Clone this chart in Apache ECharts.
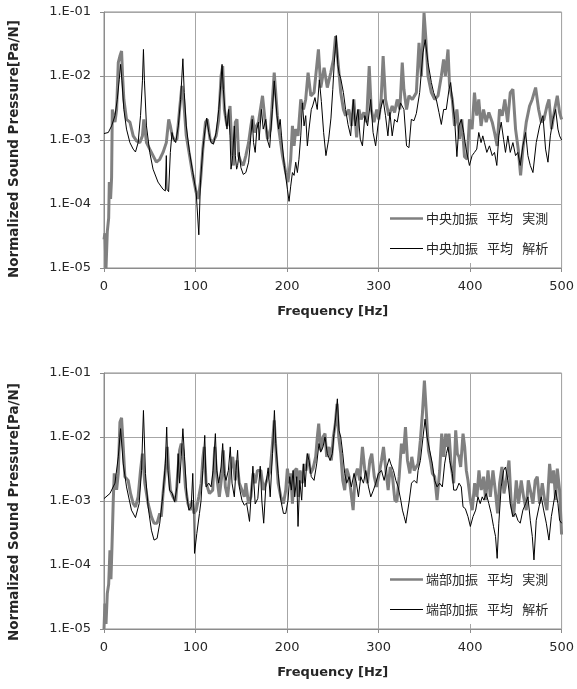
<!DOCTYPE html>
<html>
<head>
<meta charset="utf-8">
<script src="https://cdn.jsdelivr.net/npm/echarts@6/dist/echarts.min.js"></script>
<style>
  html, body { margin: 0; padding: 0; background: #fff; }
  #chart { width: 577px; height: 689px; }
</style>
</head>
<body>
<div id="chart"></div>
<script>
// Frequency response, normalized sound pressure [Pa/N] vs frequency [Hz]
const xTicks = [0, 100, 200, 300, 400, 500];
const yTickLabels = ['1.E-05', '1.E-04', '1.E-03', '1.E-02', '1.E-01'];

const gap = '\u2002\u2009';
const seriesNames = {
  centerMeas: '中央加振' + gap + '平均' + gap + '実測',
  centerCalc: '中央加振' + gap + '平均' + gap + '解析',
  edgeMeas: '端部加振' + gap + '平均' + gap + '実測',
  edgeCalc: '端部加振' + gap + '平均' + gap + '解析'
};

// Center excitation, measured average
const centerMeas = [
  [0,2.8e-5],[1,3.5e-5],[2.2,1e-5],[3.6,3.7e-5],[5.1,6e-5],[5.8,2.2e-4],[7.2,1.2e-4],[8.3,2.6e-4],[9.1,3.0e-3],
  [10.9,2.2e-3],[12,1.9e-3],[13.8,3.0e-3],[15.6,1.62e-2],[17.4,2.05e-2],[19.2,2.45e-2],[20.3,1.0e-2],[21.7,4.3e-3],
  [24.6,2.1e-3],[28.3,1.9e-3],[31.9,1.16e-3],[35.5,9.7e-4],[39.1,9.1e-4],[42,1.16e-3],[43.5,2.1e-3],[46.4,9.1e-4],
  [50,7.2e-4],[53.6,5.7e-4],[57.2,4.5e-4],[60.9,5.0e-4],[64.5,6.4e-4],[68.1,9.1e-4],[70.7,2.1e-3],[72.5,1.66e-3],
  [74.6,1.16e-3],[77.2,9.7e-4],[79.7,1.03e-3],[82.6,3.0e-3],[85.1,7.0e-3],[87,4.3e-3],[89.9,1.16e-3],[93.5,5.7e-4],
  [97.1,2.8e-4],[100.7,1.52e-4],[102.9,1.2e-4],[105.4,2.2e-4],[108,7.2e-4],[110.9,1.9e-3],[113,2.1e-3],[115.9,1.03e-3],
  [118.8,9.1e-4],[122.5,1.16e-3],[125.4,2.1e-3],[127.9,1.0e-2],[129.7,1.43e-2],[131.5,3.0e-3],[134.4,1.66e-3],
  [137.7,3.4e-3],[139.8,7.2e-4],[141.7,4.0e-4],[143.5,1.9e-3],[145.3,2.1e-3],[147.1,5.7e-4],[149.6,4.5e-4],
  [152.2,4.0e-4],[155,5.7e-4],[158,9.1e-4],[160.5,1.66e-3],[162.3,2.4e-3],[164.5,1.31e-3],[166.7,1.66e-3],
  [168.8,1.9e-3],[173.2,4.9e-3],[176,2.0e-3],[178.7,1.03e-3],[182,1.5e-3],[186,1.13e-2],[189.5,2.4e-3],[191,1.48e-3],
  [195,5.7e-4],[198.6,3.1e-4],[201,2.2e-4],[204,5.0e-4],[205.9,1.66e-3],[207.7,8.1e-4],[209.5,1.48e-3],[212,1.16e-3],
  [215,4.3e-3],[218,3.0e-3],[220.4,4.3e-3],[223,1.13e-2],[226,4.9e-3],[229.5,5.5e-3],[234.3,2.6e-2],[236.9,6.6e-3],
  [240.5,1.35e-2],[244,6.6e-3],[247.8,1.13e-2],[250.7,1.8e-2],[253,4.2e-2],[255.8,1.6e-2],[258.7,5.5e-3],[261.6,3.0e-3],
  [264,2.4e-3],[267.6,3.0e-3],[270.6,1.66e-3],[273,4.3e-3],[276,1.1e-3],[278.6,3.0e-3],[281,2.1e-3],[284,2.7e-3],
  [286.9,1.9e-3],[289.8,1.43e-2],[292,3.0e-3],[295,1.9e-3],[298,3.0e-3],[300.3,2.1e-3],[302.8,4.3e-3],[305,2.05e-2],
  [307.6,4.3e-3],[311.3,2.4e-3],[314.9,3.4e-3],[317.5,2.7e-3],[320.4,4.3e-3],[323.3,3.0e-3],[325.9,1.62e-2],
  [327.7,6.2e-3],[330.6,3.0e-3],[333.2,4.9e-3],[336.9,4.3e-3],[338,4.3e-3],[341.3,5.5e-3],[344.2,3.3e-2],[346.8,1.0e-2],
  [349.7,9.7e-2],[351.5,4.2e-2],[354,1.0e-2],[357.7,5.5e-3],[361.3,4.3e-3],[365,4.9e-3],[368.6,1.0e-2],[371.1,1.82e-2],
  [373,1.0e-2],[375.9,2.6e-2],[377.6,7.0e-3],[380.6,4.3e-3],[383,1.66e-3],[385.6,3.0e-3],[388.5,1.03e-3],[391,2.1e-3],
  [393.9,5.5e-4],[396.8,5.0e-4],[399.3,2.1e-3],[402.2,1.48e-3],[404.8,5.5e-3],[407.3,2.4e-3],[409.5,4.3e-3],
  [412,1.66e-3],[414.7,3.0e-3],[417.6,1.9e-3],[420.5,2.7e-3],[424.2,1.9e-3],[426.7,1.31e-3],[429.6,8.1e-4],
  [432.2,3.0e-3],[435.1,2.4e-3],[438,4.3e-3],[441,1.9e-3],[443.9,5.5e-3],[446.8,6.2e-3],[449.7,1.48e-3],[452.6,7.2e-4],
  [455.2,2.8e-4],[457.7,7.2e-4],[461.4,1.9e-3],[465,3.4e-3],[467.9,4.3e-3],[471.6,6.6e-3],[474.9,3.0e-3],[477.8,1.9e-3],
  [480.7,2.1e-3],[484,3.4e-3],[486.2,4.3e-3],[489.1,1.48e-3],[492.4,3.0e-3],[495.3,4.9e-3],[497.8,2.7e-3],[500,2.1e-3]
];

// Center excitation, analysis average
const centerCalc = [
  [0,1.26e-3],[4.7,1.31e-3],[8.3,1.66e-3],[12,2.4e-3],[14.5,4.3e-3],[16.7,8.9e-3],[18.1,1.52e-2],[19.6,8.4e-3],
  [21.7,3.0e-3],[24.6,1.48e-3],[28.3,9.1e-4],[31.9,7.2e-4],[34.4,6.5e-4],[37.3,9.1e-4],[39.9,2.4e-3],[42,8.4e-3],
  [43.1,2.6e-2],[44.2,8.4e-3],[46.4,1.66e-3],[50,6.4e-4],[53.6,3.5e-4],[59,2.2e-4],[64.5,1.7e-4],[67,1.6e-4],
  [68.1,5.7e-4],[68.8,1.7e-4],[70.6,1.56e-4],[72.5,6.4e-4],[74.3,1.31e-3],[76,1.03e-3],[78.3,9.1e-4],[81.2,1.66e-3],
  [83.7,4.3e-3],[86.2,1.86e-2],[87.7,5.5e-3],[89.9,1.66e-3],[93.5,6.4e-4],[97.1,3.1e-4],[100.7,1.52e-4],[103.6,3.3e-5],
  [105.4,2.2e-4],[108,7.2e-4],[110.5,1.48e-3],[112.3,2.2e-3],[114.5,1.31e-3],[117,9.1e-4],[119.6,8.6e-4],[122.5,1.31e-3],
  [125.4,3.0e-3],[127.5,7.0e-3],[129,1.52e-2],[130.4,6.2e-3],[132.6,2.4e-3],[134.4,1.48e-3],[136.2,3.0e-3],
  [137.7,1.16e-3],[138.8,3.5e-4],[140.6,5.7e-4],[142.4,1.66e-3],[143.5,5.7e-4],[144.9,3.5e-4],[146,4.0e-4],
  [147.8,6.4e-4],[149.6,3.7e-4],[152.2,2.9e-4],[155,3.1e-4],[158,4.5e-4],[160.5,1.16e-3],[162,2.1e-3],[163.4,9.1e-4],
  [165.2,6.4e-4],[167,1.48e-3],[168.8,1.9e-3],[169.5,1.0e-3],[172,3.0e-3],[174,1.48e-3],[176.8,2.1e-3],[178.6,1.0e-3],
  [181,7.6e-4],[184,3.0e-3],[186,8.4e-3],[189,2.4e-3],[190.8,1.48e-3],[192.5,2.1e-3],[194,1.16e-3],[197,4.0e-4],
  [200.4,1.7e-4],[202.2,1.1e-4],[204,1.9e-4],[205.9,3.1e-4],[207.7,2.8e-4],[209.5,4.5e-4],[211.3,3.1e-4],[213,5.0e-4],
  [215,1.16e-3],[216.8,3.8e-3],[218.6,1.66e-3],[220.4,2.4e-3],[222.2,8.1e-4],[224,1.48e-3],[226.5,3.0e-3],[228,3.4e-3],
  [230.5,4.6e-3],[233,3.0e-3],[235.3,8.7e-3],[237.5,4.0e-3],[240,1.3e-3],[242.5,5.7e-4],[245.5,1.03e-3],[248,2.2e-3],
  [250,6.2e-3],[251.6,1.6e-2],[253.8,4.3e-2],[255.5,1.5e-2],[256.9,1.1e-2],[258.7,9.1e-3],[261.6,5.5e-3],[264,3.0e-3],
  [266.6,1.75e-3],[269.5,1.16e-3],[272.4,4.3e-3],[274.5,1.66e-3],[277.5,3.0e-3],[280,1.03e-3],[282.4,8.1e-4],
  [285,2.4e-3],[288,1.66e-3],[291.4,4.3e-3],[294,1.31e-3],[296.8,8.1e-4],[299.3,1.66e-3],[302.1,3.0e-3],[305,4.3e-3],
  [307.6,2.4e-3],[310.2,1.16e-3],[312.4,2.7e-3],[314.9,1.16e-3],[317.5,2.1e-3],[320.4,1.9e-3],[324,3.8e-3],
  [327.7,3.0e-3],[330.6,8.1e-4],[333.2,7.6e-4],[335.8,2.1e-3],[338.7,2.0e-3],[341.3,2.6e-3],[344.9,5.5e-3],
  [348.5,2.3e-2],[351,3.7e-2],[354,1.62e-2],[357.7,7.9e-3],[360.2,5.5e-3],[363.1,4.3e-3],[366,2.7e-3],[368.6,1.75e-3],
  [371.1,3.0e-3],[374,3.0e-3],[377,6.2e-3],[378.8,7.9e-3],[380.6,4.3e-3],[383.1,2.1e-3],[385.6,5.5e-4],[387.8,1.66e-3],
  [390.4,2.1e-3],[393,1.31e-3],[395.7,7.2e-4],[399.3,4.0e-4],[402.2,5.7e-4],[404.8,6.4e-4],[407.3,7.2e-4],
  [409.5,1.31e-3],[412,9.1e-4],[413.9,1.16e-3],[415.7,9.1e-4],[418.3,6.4e-4],[421.2,8.1e-4],[424.2,5.7e-4],
  [426.7,6.4e-4],[429.2,4.0e-4],[431.4,1.16e-3],[434,1.9e-3],[436.6,1.03e-3],[438.7,6.4e-4],[441.3,1.16e-3],
  [443.9,6.4e-4],[446.8,9.1e-4],[449.7,5.7e-4],[452.2,6.4e-4],[454.8,4.0e-4],[457.7,8.1e-4],[460.7,1.31e-3],
  [463.2,5.7e-4],[465.8,4.0e-4],[468.7,3.1e-4],[472.3,9.1e-4],[476,1.66e-3],[479.6,2.4e-3],[482.5,7.2e-4],
  [485.1,4.5e-4],[487.7,1.16e-3],[490.6,2.1e-3],[493.5,3.0e-3],[496,1.48e-3],[497.8,1.16e-3],[500,1.0e-3]
];

// Edge excitation, measured average
const edgeMeas = [
  [0,1.0e-5],[1,2.5e-5],[2.2,1.2e-5],[3.6,3.6e-5],[5.1,5.0e-5],[6.5,1.7e-4],[7.6,6e-5],[8.7,1.9e-4],[10.1,1.0e-3],
  [11.2,2.7e-3],[13.8,1.5e-3],[15.6,2.7e-3],[17.4,1.7e-2],[19.2,2.0e-2],[21,7.0e-3],[22.8,2.4e-3],[26.4,2.1e-3],
  [29,1.31e-3],[31.9,9.1e-4],[34.4,8.1e-4],[37.3,1.16e-3],[39.9,3.0e-3],[42,5.5e-3],[44.6,1.9e-3],[48.2,9.1e-4],
  [51.8,5.7e-4],[54.7,4.5e-4],[58,4.5e-4],[60.9,6.4e-4],[62.7,5.7e-4],[64.5,1.31e-3],[67,3.0e-3],[69.2,7.0e-3],
  [70.7,3.0e-3],[72.5,1.48e-3],[75.4,1.16e-3],[78.3,9.7e-4],[80.8,3.0e-3],[82.6,6.2e-3],[84.4,7.9e-3],[86.2,6.2e-3],
  [89,1.66e-3],[91.7,9.1e-4],[94.2,7.2e-4],[96.4,1.03e-3],[98.2,6.4e-4],[100.7,7.2e-4],[103.6,1.16e-3],[106.2,1.9e-3],
  [108,4.6e-3],[109.4,7.0e-3],[111.6,1.9e-3],[115.2,1.31e-3],[118.8,1.48e-3],[121,7.0e-3],[123.2,2.4e-3],[126,1.16e-3],
  [129,2.7e-3],[130.4,6.2e-3],[132.6,1.66e-3],[135.1,1.16e-3],[138,3.0e-3],[140.6,4.9e-3],[143.5,2.1e-3],[145.3,4.3e-3],
  [147.8,1.9e-3],[150.7,1.48e-3],[153.3,1.16e-3],[155,1.9e-3],[157.9,9.1e-4],[160.5,1.16e-3],[163,2.7e-3],[165.2,1.9e-3],
  [167.7,3.0e-3],[171.4,3.0e-3],[174.3,1.48e-3],[177.9,2.1e-3],[181.6,3.0e-3],[184.1,7.9e-3],[186,1.82e-2],[188.1,5.5e-3],
  [190.3,1.9e-3],[193.2,1.16e-3],[196.1,9.1e-4],[198.6,1.48e-3],[200.4,3.2e-3],[202.2,1.9e-3],[204,2.7e-3],[205.9,9.1e-4],
  [208.4,3.0e-3],[210.6,3.2e-3],[212.4,1.16e-3],[214.2,3.0e-3],[216.8,1.9e-3],[218.6,3.8e-3],[220.8,3.0e-3],[223,5.5e-3],
  [225.8,2.7e-3],[228.4,3.2e-3],[231.3,4.9e-3],[233.1,1.0e-2],[234.6,1.62e-2],[236.8,6.2e-3],[239.3,1.0e-2],[241.5,1.13e-2],
  [243.3,4.9e-3],[245.9,7.0e-3],[248.4,4.3e-3],[250.6,1.0e-2],[252.8,1.62e-2],[254.6,3.3e-2],[256.5,1.0e-2],[258.7,5.5e-3],
  [260.9,2.1e-3],[263,1.48e-3],[265.2,3.2e-3],[267.8,2.4e-3],[269.6,1.48e-3],[272.2,7.2e-4],[274.3,2.4e-3],[276.9,3.2e-3],
  [279.5,2.1e-3],[282.4,7.0e-3],[285,3.0e-3],[287.9,1.9e-3],[290.5,4.3e-3],[292.6,5.5e-3],[295.3,2.4e-3],[297.8,1.66e-3],
  [300.7,2.7e-3],[303.2,4.3e-3],[305.4,7.0e-3],[308,3.0e-3],[310.5,1.48e-3],[312.7,3.4e-3],[315.2,2.4e-3],[317.8,1.03e-3],
  [320,9.7e-4],[322.5,2.4e-3],[325,7.9e-3],[327.3,5.5e-3],[329.4,1.43e-2],[331.6,4.3e-3],[334.2,2.7e-3],[336.3,4.9e-3],
  [338.9,3.0e-3],[340.6,3.0e-3],[343.2,3.8e-3],[345.7,8.9e-3],[347.9,2.3e-2],[350.1,7.6e-2],[352.3,2.3e-2],[354.5,6.2e-3],
  [356.7,4.3e-3],[358.8,2.7e-3],[361.3,2.4e-3],[363.9,1.03e-3],[366.8,3.0e-3],[369,1.13e-2],[371.1,4.9e-3],[373.4,1.13e-2],
  [375.2,7.0e-3],[377,1.13e-2],[379.5,3.4e-3],[382.1,1.9e-3],[384.3,1.27e-2],[386.1,5.5e-3],[387.9,4.9e-3],[389.7,3.4e-3],
  [392.3,1.13e-2],[394.1,7.0e-3],[395.9,3.0e-3],[397.7,2.1e-3],[400.3,1.03e-3],[402.4,7.2e-4],[405,1.9e-3],[407.5,1.16e-3],
  [409.7,3.0e-3],[412.2,1.48e-3],[414.8,2.4e-3],[417,1.03e-3],[419.6,3.0e-3],[422.1,1.16e-3],[425,3.0e-3],[427.5,1.48e-3],
  [430.1,6.4e-4],[432.3,1.9e-3],[434.8,3.4e-3],[437,1.31e-3],[439.6,2.1e-3],[442.5,4.3e-3],[445,9.1e-4],[447.6,5.7e-4],
  [450.5,2.1e-3],[453,9.1e-4],[455.9,2.1e-3],[458.5,1.16e-3],[461.4,7.2e-4],[463.6,2.1e-3],[465.8,1.48e-3],[468.7,9.1e-4],
  [471.2,2.1e-3],[473.4,2.4e-3],[476,9.1e-4],[478.9,1.9e-3],[481.5,1.03e-3],[484,7.2e-4],[486.9,3.8e-3],[489.1,1.9e-3],
  [491.3,3.0e-3],[493.5,1.03e-3],[495.3,3.2e-3],[497.8,1.48e-3],[500,3.0e-4]
];

// Edge excitation, analysis average
const edgeCalc = [
  [0,1.09e-3],[6.5,1.31e-3],[12,1.9e-3],[15.6,4.9e-3],[18.1,1.35e-2],[21,3.8e-3],[24.6,1.66e-3],[30,7.2e-4],[34.4,5.5e-4],
  [38.4,9.1e-4],[41,3.0e-3],[43.1,2.6e-2],[45.3,2.7e-3],[48.2,8.1e-4],[51.8,3.5e-4],[54.7,2.45e-4],[58,2.6e-4],[60.9,4.5e-4],
  [64.5,1.31e-3],[67,3.8e-3],[68.5,1.43e-2],[69.9,3.0e-3],[71.7,1.48e-3],[74.6,1.31e-3],[77.2,9.7e-4],[79.7,1.66e-3],
  [81,5.5e-3],[82.6,1.9e-3],[84.4,4.9e-3],[86.2,1.35e-2],[88,4.9e-3],[90.6,1.16e-3],[92.8,7.2e-4],[95.3,8.1e-4],[97,2.7e-3],
  [98.2,7.2e-4],[98.9,1.52e-4],[101.4,3.1e-4],[104.3,6.4e-4],[106,1.0e-3],[108,3.0e-3],[110.1,1.06e-2],[111.6,1.66e-3],
  [114.5,1.9e-3],[117,1.66e-3],[119.2,3.0e-3],[121.7,1.13e-2],[123.2,3.0e-3],[125.4,1.9e-3],[127.9,3.4e-3],[129.7,7.9e-3],
  [131.5,2.7e-3],[133.3,2.1e-3],[135.9,3.0e-3],[138,7.0e-3],[139.9,1.9e-3],[142.4,1.16e-3],[144.2,3.0e-3],[146,6.2e-3],
  [147.8,1.66e-3],[150.7,1.03e-3],[153.3,8.6e-4],[155.8,9.3e-4],[159,4.8e-4],[162.7,3.5e-3],[165.2,9e-4],[168.1,1.1e-3],
  [170.7,3.5e-3],[172.5,1.0e-3],[174.5,4.5e-4],[177,1.9e-3],[179.4,3.3e-3],[181.6,1.16e-3],[184.1,5.5e-3],[186.2,2.6e-2],
  [187.7,7.9e-3],[190.3,2.7e-3],[193.2,1.03e-3],[196.1,6.4e-4],[198.6,6.4e-4],[201.1,1.03e-3],[202.9,2.4e-3],[204.7,1.48e-3],
  [206.6,3.0e-3],[208.4,1.16e-3],[210.6,2.4e-3],[212,4.0e-4],[213.9,2.1e-3],[216,1.03e-3],[217.9,3.8e-3],[219.7,1.66e-3],
  [222.2,5.5e-3],[224,4.3e-3],[226.5,2.4e-3],[229.5,2.1e-3],[232.4,3.8e-3],[234.9,7.9e-3],[236.8,5.8e-3],[239.3,7.0e-3],
  [241.5,1.0e-2],[244,5.5e-3],[247,4.3e-3],[249.5,5.5e-3],[251.3,1.13e-2],[253.2,2.05e-2],[255,3.95e-2],[256.8,1.27e-2],
  [258.7,1.0e-2],[260.9,5.5e-3],[263,2.7e-3],[265.2,1.9e-3],[267.8,2.4e-3],[270.3,1.66e-3],[273.2,2.7e-3],[275.8,1.9e-3],
  [278,1.16e-3],[280.6,2.4e-3],[283.5,1.9e-3],[286,3.0e-3],[289,1.66e-3],[291.5,1.16e-3],[294.4,1.48e-3],[297,1.9e-3],
  [299.9,2.7e-3],[303.2,3.0e-3],[306.1,2.1e-3],[309,3.4e-3],[311.6,4.6e-3],[313.4,3.8e-3],[316.3,3.0e-3],[318.9,2.1e-3],
  [321.4,1.66e-3],[324.3,1.03e-3],[326.1,7.2e-4],[328,5.7e-4],[329.8,4.5e-4],[331.6,4.7e-4],[333.5,1.0e-3],[336,1.9e-3],
  [338.9,2.1e-3],[341.8,1.9e-3],[343.2,3.0e-3],[345.7,4.3e-3],[348.6,1.0e-2],[350.8,1.9e-2],[353,1.0e-2],[355.9,6.2e-3],
  [358.8,3.8e-3],[361.3,2.1e-3],[363.9,1.66e-3],[366.8,1.9e-3],[369.7,1.66e-3],[372.2,3.8e-3],[374.1,5.5e-3],[375.9,7.0e-3],
  [377.7,4.3e-3],[380.6,2.7e-3],[382.1,1.48e-3],[385,1.48e-3],[387.9,1.9e-3],[390.4,1.66e-3],[392.3,8.1e-4],[394.8,7.6e-4],
  [397.7,5.7e-4],[400.3,4.0e-4],[403.2,5.7e-4],[406.1,7.2e-4],[408.6,1.16e-3],[411.1,9.1e-4],[413.3,1.16e-3],[415.1,1.03e-3],
  [417.6,1.31e-3],[420.5,9.1e-4],[423.1,6.4e-4],[425.6,4.0e-4],[427.8,2.8e-4],[429.6,1.27e-4],[431.4,4.5e-4],[434,1.66e-3],
  [436.6,3.0e-3],[438.7,3.4e-3],[441.3,2.1e-3],[443.9,9.1e-4],[446.8,5.7e-4],[449.7,6.4e-4],[452.2,5.0e-4],[454.8,4.5e-4],
  [457.7,7.2e-4],[460.7,9.1e-4],[463.2,1.16e-3],[465.8,5.0e-4],[468,2.8e-4],[469.8,1.2e-4],[472.3,5.0e-4],[475.3,8.1e-4],
  [477.8,1.16e-3],[480.4,7.2e-4],[483.3,4.5e-4],[486.2,2.45e-4],[488.8,5.7e-4],[490.6,8.1e-4],[493.5,1.48e-3],[496,9.1e-4],
  [497.8,5.0e-4],[500,4.5e-4]
];

const latinFont = 'DejaVu Sans, Verdana, sans-serif';
const cjkFont = 'Noto Sans CJK JP, sans-serif';
const textColor = '#262626';
const measColor = '#808080';
const calcColor = '#000000';
const gridTops = [12, 373];
const plotHeight = 256;

// Legend swatches: flat bars, thick for measured, thin for analysis
const measIcon = 'path://M0,0h33v2.4h-33z';
const calcIcon = 'path://M0,0h33v1h-33z';

function makeXAxis(gridIndex) {
  return {
    type: 'value', gridIndex, min: xTicks[0], max: xTicks[xTicks.length - 1], interval: 100,
    name: 'Frequency [Hz]', nameLocation: 'middle', nameGap: 37,
    nameTextStyle: { fontFamily: latinFont, fontWeight: 'bold', fontSize: 13, color: textColor },
    axisLine: { show: true, lineStyle: { color: '#8c8c8c' } },
    axisTick: { show: true, length: 4, lineStyle: { color: '#8c8c8c' } },
    axisLabel: { fontFamily: latinFont, fontSize: 13, color: textColor, margin: 12,
      formatter: v => xTicks.indexOf(v) >= 0 ? String(v) : '' },
    splitLine: { show: true, lineStyle: { color: '#a6a6a6', width: 1 } }
  };
}

function makeYAxis(gridIndex) {
  return {
    type: 'log', logBase: 10, gridIndex, min: 1e-5, max: 1e-1,
    axisLine: { show: true, lineStyle: { color: '#8c8c8c' } },
    axisTick: { show: true, length: 4, lineStyle: { color: '#8c8c8c' } },
    axisLabel: { fontFamily: latinFont, fontSize: 13, color: textColor, margin: 13,
      formatter: v => yTickLabels[Math.round(Math.log10(v)) + 5] || '' },
    splitLine: { show: true, lineStyle: { color: '#a6a6a6', width: 1 } },
    minorSplitLine: { show: false }
  };
}

function measSeries(name, data, idx) {
  return { name, type: 'line', xAxisIndex: idx, yAxisIndex: idx, data, symbol: 'none', smooth: false,
    lineStyle: { color: measColor, width: 3 }, itemStyle: { color: measColor }, z: 2 };
}
function calcSeries(name, data, idx) {
  return { name, type: 'line', xAxisIndex: idx, yAxisIndex: idx, data, symbol: 'none', smooth: false,
    lineStyle: { color: calcColor, width: 1 }, itemStyle: { color: calcColor }, z: 3 };
}

function makeLegend(measName, calcName, top) {
  return {
    orient: 'vertical', left: 385, top,
    data: [
      { name: measName, icon: measIcon, itemStyle: { color: measColor } },
      { name: calcName, icon: calcIcon, itemStyle: { color: calcColor } }
    ],
    backgroundColor: '#ffffff', padding: [6, 10, 8, 5],
    itemWidth: 33, itemHeight: 14, itemGap: 17,
    textStyle: { fontFamily: cjkFont, fontSize: 13, color: textColor, padding: [0, 0, 0, -2] },
    z: 10
  };
}

function yTitle(cy) {
  return { type: 'text', x: 14, y: cy, rotation: Math.PI / 2,
    style: { text: 'Normalized Sound Pressure[Pa/N]', fontFamily: latinFont, fontWeight: 'bold',
      fontSize: 13.5, fill: textColor, align: 'center', verticalAlign: 'middle' } };
}

const chart = echarts.init(document.getElementById('chart'), null, { renderer: 'canvas' });
chart.setOption({
  animation: false,
  backgroundColor: '#ffffff',
  grid: gridTops.map(t => ({ left: 104, top: t, width: 459, height: plotHeight, show: true,
    borderColor: '#8c8c8c', borderWidth: 1, backgroundColor: 'transparent', containLabel: false })),
  xAxis: [makeXAxis(0), makeXAxis(1)],
  yAxis: [makeYAxis(0), makeYAxis(1)],
  legend: [
    makeLegend(seriesNames.centerMeas, seriesNames.centerCalc, gridTops[0] + 194),
    makeLegend(seriesNames.edgeMeas, seriesNames.edgeCalc, gridTops[1] + 194)
  ],
  graphic: [yTitle(149), yTitle(512)],
  series: [
    measSeries(seriesNames.centerMeas, centerMeas, 0),
    calcSeries(seriesNames.centerCalc, centerCalc, 0),
    measSeries(seriesNames.edgeMeas, edgeMeas, 1),
    calcSeries(seriesNames.edgeCalc, edgeCalc, 1)
  ]
});
</script>
</body>
</html>
